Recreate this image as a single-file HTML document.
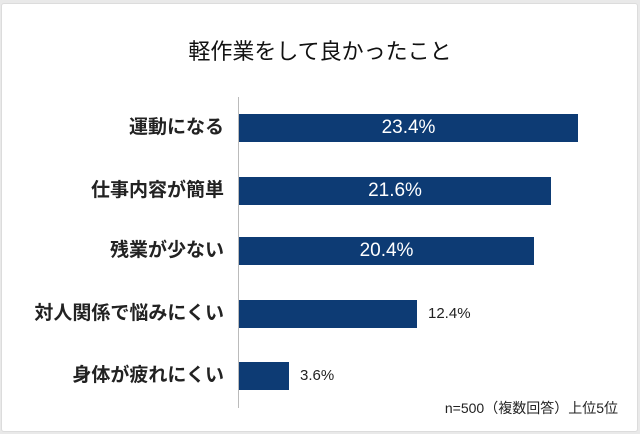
<!DOCTYPE html>
<html><head><meta charset="utf-8"><style>
body{margin:0;width:640px;height:434px;background:#e9e9e9;font-family:"Liberation Sans","Noto Sans CJK JP",sans-serif;position:relative;overflow:hidden}
.card{position:absolute;left:1px;top:3px;width:635px;height:427px;background:#fff;border:1px solid #dcdcdc;border-radius:3px}
.t{position:absolute;left:0;width:640px;top:34px;text-align:center;font-size:22px;color:#111}
.axis{position:absolute;left:238px;top:97px;width:1px;height:311px;background:#bbb}
.bar{position:absolute;left:239px;height:28px;background:#0d3b74;color:#fff;font-size:19px;line-height:28px;text-align:center}
.lab{position:absolute;right:416px;font-size:19px;font-weight:bold;color:#222;line-height:28px;white-space:nowrap}
.v{position:absolute;font-size:15px;color:#222;line-height:28px}
.n{position:absolute;right:22px;top:398px;font-size:14px;color:#222}
</style></head><body>
<div class="card"></div>
<div class="t">軽作業をして良かったこと</div>
<div class="axis"></div>
<div class="lab" style="top:114px">運動になる</div><div class="bar" style="top:114px;width:339px">23.4%</div>
<div class="lab" style="top:177px">仕事内容が簡単</div><div class="bar" style="top:177px;width:312px">21.6%</div>
<div class="lab" style="top:237px">残業が少ない</div><div class="bar" style="top:237px;width:295px">20.4%</div>
<div class="lab" style="top:300px">対人関係で悩みにくい</div><div class="bar" style="top:300px;width:178px"></div><div class="v" style="top:300px;left:428px">12.4%</div>
<div class="lab" style="top:362px">身体が疲れにくい</div><div class="bar" style="top:362px;width:50px"></div><div class="v" style="top:362px;left:300px">3.6%</div>
<div class="n">n=500（複数回答）上位5位</div>
</body></html>
